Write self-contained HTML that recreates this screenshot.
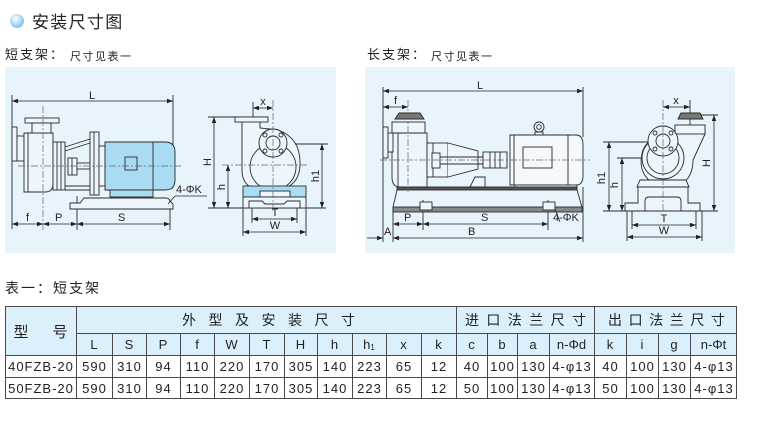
<!DOCTYPE html>
<html><head><meta charset="utf-8"><style>
html,body{margin:0;padding:0;background:#fff;width:759px;height:422px;overflow:hidden}
svg{display:block}
text{font-family:"Liberation Sans","Noto Sans CJK SC",sans-serif;fill:#222}
</style></head><body>
<svg width="759" height="422" viewBox="0 0 759 422" xmlns="http://www.w3.org/2000/svg">
<defs>
<radialGradient id="ball" cx="0.4" cy="0.35" r="0.7"><stop offset="0" stop-color="#ffffff"/><stop offset="1" stop-color="#6fbfea"/></radialGradient>
<marker id="ar" viewBox="0 0 8 6" refX="8" refY="3" markerWidth="6" markerHeight="4.5" orient="auto-start-reverse" markerUnits="userSpaceOnUse"><path d="M0,0 L8,3 L0,6 Z" fill="#222"/></marker>
</defs>

<!-- Header -->
<circle cx="17" cy="21" r="7" fill="url(#ball)"/>
<text x="32" y="28" font-size="17" letter-spacing="1.3">安装尺寸图</text>
<text x="5" y="59" font-size="13" letter-spacing="2">短支架：</text>
<text x="70" y="60" font-size="11" letter-spacing="1.5">尺寸见表一</text>
<text x="367" y="59" font-size="13" letter-spacing="2">长支架：</text>
<text x="431" y="60" font-size="11" letter-spacing="1.5">尺寸见表一</text>

<!-- Panels -->
<rect x="5" y="67" width="331" height="186" fill="#e8f4fc"/>
<rect x="365" y="67" width="370" height="186" fill="#e8f4fc"/>

<!-- ========== LEFT SIDE VIEW ========== -->
<g stroke="#2a2a2a" stroke-width="0.9" fill="none">
<line x1="12" y1="95" x2="12" y2="229"/>
<line x1="173" y1="95" x2="173" y2="146"/>
<line x1="77" y1="196" x2="77" y2="230"/>
<line x1="170" y1="205" x2="170" y2="230"/>
<line x1="115" y1="197" x2="115" y2="203"/>
<line x1="148" y1="197" x2="148" y2="203"/>
</g>
<g stroke="#2a2a2a" stroke-width="0.9" fill="#edf6fc">
<rect x="12" y="127" width="5" height="34"/>
<rect x="17" y="136" width="7" height="25"/>
<path d="M24,133 H53 V184 Q53,192 45,192 H24 Z"/>
<line x1="28" y1="133" x2="28" y2="192"/>
<rect x="25" y="118" width="34" height="5"/>
<rect x="32" y="123" width="19" height="10"/>
<rect x="53" y="142" width="12" height="48"/>
<line x1="57" y1="142" x2="57" y2="190"/><line x1="61" y1="142" x2="61" y2="190"/>
<path d="M65,147 L90,139 M65,151 L90,143 M65,186 H90 M65,190 H90" fill="none"/>
<rect x="68" y="158" width="9" height="17"/>
<line x1="72" y1="158" x2="72" y2="175"/>
<rect x="77" y="163" width="13" height="6"/>
<rect x="90" y="132" width="9" height="63"/>
<line x1="94" y1="132" x2="94" y2="195"/>
<rect x="99" y="146" width="6" height="40"/>
<path d="M105,142 H165 Q175,142 175,152 V180 Q175,190 165,190 H105 Z" fill="#a9dcf2"/>
<line x1="153" y1="142" x2="153" y2="190"/>
<rect x="125" y="157" width="12" height="13" fill="#a9dcf2"/>
<rect x="110" y="190" width="43" height="7" fill="#a9dcf2"/>
<path d="M70,203 H80 L84,198 H166 Q169,198 170,201 L173,204 V209 H70 Z"/>
</g>
<g stroke="#666" stroke-width="0.7" stroke-dasharray="7 2 2 2" fill="none">
<line x1="43" y1="106" x2="43" y2="232"/>
<line x1="18" y1="166" x2="182" y2="166"/>
</g>
<g stroke="#222" stroke-width="0.8">
<line x1="12" y1="101" x2="173" y2="101" marker-start="url(#ar)" marker-end="url(#ar)"/>
<line x1="12" y1="224" x2="43" y2="224" marker-start="url(#ar)" marker-end="url(#ar)"/>
<line x1="43" y1="224" x2="77" y2="224" marker-start="url(#ar)" marker-end="url(#ar)"/>
<line x1="77" y1="224" x2="170" y2="224" marker-start="url(#ar)" marker-end="url(#ar)"/>
<line x1="175" y1="196" x2="207" y2="196"/>
<line x1="175" y1="196" x2="168" y2="204"/>
</g>
<g font-size="11">
<text x="89" y="99">L</text>
<text x="26" y="221">f</text>
<text x="55" y="221">P</text>
<text x="118" y="221">S</text>
<text x="176" y="193">4-ΦK</text>
</g>

<!-- ========== LEFT FRONT VIEW ========== -->
<g stroke="#2a2a2a" stroke-width="0.9" fill="none">
<line x1="208" y1="117" x2="268" y2="117"/>
<line x1="208" y1="208" x2="326" y2="208"/>
<line x1="286" y1="144" x2="328" y2="144"/>
<line x1="253" y1="102" x2="253" y2="125"/>
<line x1="252" y1="200" x2="252" y2="223"/>
<line x1="297" y1="200" x2="297" y2="223"/>
<line x1="243" y1="208" x2="243" y2="236"/>
<line x1="306" y1="208" x2="306" y2="236"/>
</g>
<g stroke="#2a2a2a" stroke-width="0.9" fill="#edf6fc">
<path d="M242,122 V170 Q242,191 268,191 Q299,191 300,165 Q301,138 278,130 L260,128 V122"/>
<circle cx="273" cy="167" r="23"/>
<circle cx="273" cy="143" r="14"/>
<circle cx="273" cy="143" r="7"/>
<circle cx="265" cy="135" r="2"/><circle cx="281" cy="135" r="2"/>
<circle cx="265" cy="151" r="2"/><circle cx="281" cy="151" r="2"/>
<rect x="235" y="117" width="33" height="5"/>
<rect x="243" y="186" width="63" height="11" fill="#a9dcf2"/>
<rect x="260" y="191" width="30" height="6"/>
<rect x="243" y="197" width="63" height="11"/>
<path d="M249,208 V201 H262 L265,204 H284 L287,201 H300 V208" fill="none"/>
</g>
<g stroke="#666" stroke-width="0.7" stroke-dasharray="7 2 2 2" fill="none">
<line x1="273" y1="100" x2="273" y2="212"/>
<line x1="222" y1="165" x2="308" y2="165"/>
</g>
<g stroke="#222" stroke-width="0.8">
<line x1="214" y1="117" x2="214" y2="208" marker-start="url(#ar)" marker-end="url(#ar)"/>
<line x1="228" y1="165" x2="228" y2="208" marker-start="url(#ar)" marker-end="url(#ar)"/>
<line x1="322" y1="144" x2="322" y2="208" marker-start="url(#ar)" marker-end="url(#ar)"/>
<line x1="252" y1="219" x2="297" y2="219" marker-start="url(#ar)" marker-end="url(#ar)"/>
<line x1="243" y1="232" x2="306" y2="232" marker-start="url(#ar)" marker-end="url(#ar)"/>
<line x1="253" y1="108" x2="273" y2="108" marker-start="url(#ar)" marker-end="url(#ar)"/>
</g>
<g font-size="11">
<text x="211" y="162" transform="rotate(-90 211 162)" text-anchor="middle">H</text>
<text x="225" y="187" transform="rotate(-90 225 187)" text-anchor="middle">h</text>
<text x="319" y="176" transform="rotate(-90 319 176)" text-anchor="middle">h1</text>
<text x="275" y="216" text-anchor="middle">T</text>
<text x="275" y="229" text-anchor="middle">W</text>
<text x="263" y="105" text-anchor="middle">x</text>
</g>

<!-- ========== RIGHT SIDE VIEW ========== -->
<g stroke="#2a2a2a" stroke-width="0.9" fill="none">
<line x1="383" y1="87" x2="383" y2="242"/>
<line x1="583" y1="87" x2="583" y2="137"/>
<line x1="583" y1="187" x2="583" y2="242"/>
<line x1="393" y1="207" x2="393" y2="242"/>
<line x1="423" y1="200" x2="423" y2="230"/>
<line x1="548" y1="200" x2="548" y2="230"/>
</g>
<g stroke="#2a2a2a" stroke-width="0.9" fill="#edf6fc">
<polygon points="395,119 399,113 420,113 424,119" fill="#777"/>
<rect x="392" y="122" width="33" height="11"/>
<path d="M392,133 H427 V187 H400 Q392,187 392,177 Z"/>
<line x1="398" y1="133" x2="398" y2="187"/>
<rect x="383" y="127" width="5" height="31"/>
<rect x="388" y="133" width="5" height="19"/>
<rect x="427" y="143" width="21" height="34"/>
<line x1="433" y1="143" x2="433" y2="177"/>
<rect x="432" y="153" width="8" height="15"/>
<path d="M448,143 L478,151 V169 L448,177" />
<path d="M440,157 H483 M440,164 H483" fill="none"/>
<path d="M470,187 L475,177 H485 V187 Z"/>
<rect x="483" y="152" width="24" height="16"/>
<line x1="490" y1="152" x2="490" y2="168"/><line x1="495" y1="152" x2="495" y2="168"/><line x1="500" y1="152" x2="500" y2="168"/>
<path d="M510,135 H576 Q583,135 583,145 V176 Q583,185 576,185 H510 Z" fill="#f3f9fd"/>
<line x1="514" y1="135" x2="514" y2="185"/>
<line x1="568" y1="135" x2="568" y2="185"/>
<rect x="523" y="147" width="29" height="21" fill="#f3f9fd"/>
<circle cx="539" cy="127" r="5"/><circle cx="539" cy="127" r="2.3"/>
<rect x="535" y="132" width="8" height="3"/>
<rect x="515" y="185" width="62" height="4"/>
<rect x="397" y="187" width="180" height="3" fill="#555"/>
<path d="M397,190 L393,207 M577,190 L582,207" fill="none"/>
<rect x="393" y="207" width="189" height="5" fill="#888"/>
<rect x="420" y="202" width="12" height="8"/>
<rect x="543" y="202" width="12" height="8"/>
</g>
<g stroke="#666" stroke-width="0.7" stroke-dasharray="7 2 2 2" fill="none">
<line x1="408" y1="100" x2="408" y2="192"/>
<line x1="380" y1="160" x2="590" y2="160"/>
</g>
<g stroke="#222" stroke-width="0.8">
<line x1="383" y1="91" x2="583" y2="91" marker-start="url(#ar)" marker-end="url(#ar)"/>
<line x1="383" y1="107" x2="408" y2="107" marker-start="url(#ar)" marker-end="url(#ar)"/>
<line x1="393" y1="224" x2="423" y2="224" marker-start="url(#ar)" marker-end="url(#ar)"/>
<line x1="423" y1="224" x2="548" y2="224" marker-start="url(#ar)" marker-end="url(#ar)"/>
<line x1="367" y1="238" x2="383" y2="238" marker-end="url(#ar)"/>
<line x1="393" y1="238" x2="583" y2="238" marker-start="url(#ar)" marker-end="url(#ar)"/>
<line x1="555" y1="209" x2="560" y2="222"/>
</g>
<g font-size="11">
<text x="477" y="89">L</text>
<text x="394" y="104">f</text>
<text x="404" y="221">P</text>
<text x="481" y="221">S</text>
<text x="553" y="221">4-ΦK</text>
<text x="384" y="235">A</text>
<text x="468" y="235">B</text>
</g>

<!-- ========== RIGHT END VIEW ========== -->
<g stroke="#2a2a2a" stroke-width="0.9" fill="none">
<line x1="603" y1="142" x2="680" y2="142"/>
<line x1="617" y1="158" x2="690" y2="158"/>
<line x1="700" y1="115" x2="718" y2="115"/>
<line x1="603" y1="211" x2="718" y2="211"/>
<line x1="690" y1="100" x2="690" y2="125"/>
<line x1="632" y1="205" x2="632" y2="229"/>
<line x1="696" y1="205" x2="696" y2="229"/>
<line x1="627" y1="211" x2="627" y2="241"/>
<line x1="702" y1="211" x2="702" y2="241"/>
</g>
<g stroke="#2a2a2a" stroke-width="0.9" fill="#edf6fc">
<path d="M675,126 V134 Q650,134 643,150 Q637,170 650,181 Q662,190 680,185 Q693,178 693,160 L705,134 V126 Z"/>
<polygon points="678,119 681,113 700,113 703,119" fill="#777"/>
<rect x="675" y="125" width="30" height="9"/>
<circle cx="663" cy="158" r="21"/>
<circle cx="663" cy="158" r="16"/>
<circle cx="663" cy="141" r="15"/>
<circle cx="663" cy="141" r="7"/>
<circle cx="655" cy="133" r="2"/><circle cx="671" cy="133" r="2"/>
<circle cx="655" cy="149" r="2"/><circle cx="671" cy="149" r="2"/>
<path d="M637,187 L640,180 H686 L689,187 Z"/>
<path d="M625,211 V203 H638 V187 H688 V203 H700 V211 Z"/>
<path d="M645,211 V201 Q645,197 649,197 H677 Q681,197 681,201 V211" fill="none"/>
</g>
<g stroke="#666" stroke-width="0.7" stroke-dasharray="7 2 2 2" fill="none">
<line x1="663" y1="100" x2="663" y2="210"/>
</g>
<g stroke="#222" stroke-width="0.8">
<line x1="609" y1="142" x2="609" y2="211" marker-start="url(#ar)" marker-end="url(#ar)"/>
<line x1="622" y1="158" x2="622" y2="211" marker-start="url(#ar)" marker-end="url(#ar)"/>
<line x1="714" y1="115" x2="714" y2="211" marker-start="url(#ar)" marker-end="url(#ar)"/>
<line x1="663" y1="107" x2="690" y2="107" marker-start="url(#ar)" marker-end="url(#ar)"/>
<line x1="632" y1="225" x2="696" y2="225" marker-start="url(#ar)" marker-end="url(#ar)"/>
<line x1="627" y1="237" x2="702" y2="237" marker-start="url(#ar)" marker-end="url(#ar)"/>
</g>
<g font-size="11">
<text x="605" y="178" transform="rotate(-90 605 178)" text-anchor="middle">h1</text>
<text x="618" y="185" transform="rotate(-90 618 185)" text-anchor="middle">h</text>
<text x="710" y="163" transform="rotate(-90 710 163)" text-anchor="middle">H</text>
<text x="676" y="104" text-anchor="middle">x</text>
<text x="664" y="222" text-anchor="middle">T</text>
<text x="664" y="234" text-anchor="middle">W</text>
</g>

<!-- ========== TABLE ========== -->
<text x="5" y="293" font-size="14" letter-spacing="2">表一：短支架</text>
<rect x="5" y="306" width="732" height="49" fill="#dcf0fb"/>
<g stroke="#4a4a4a" stroke-width="1" fill="none">
<rect x="5.5" y="306.5" width="731" height="92"/>
<line x1="76.5" y1="306" x2="76.5" y2="399"/>
<line x1="76" y1="333.5" x2="737" y2="333.5"/>
<line x1="5" y1="355.5" x2="737" y2="355.5"/>
<line x1="5" y1="377.5" x2="737" y2="377.5"/>
<line x1="456.5" y1="306" x2="456.5" y2="399"/>
<line x1="594.5" y1="306" x2="594.5" y2="399"/>
<line x1="112.5" y1="333" x2="112.5" y2="399"/>
<line x1="146.5" y1="333" x2="146.5" y2="399"/>
<line x1="180.5" y1="333" x2="180.5" y2="399"/>
<line x1="214.5" y1="333" x2="214.5" y2="399"/>
<line x1="249.5" y1="333" x2="249.5" y2="399"/>
<line x1="284.5" y1="333" x2="284.5" y2="399"/>
<line x1="317.5" y1="333" x2="317.5" y2="399"/>
<line x1="352.5" y1="333" x2="352.5" y2="399"/>
<line x1="386.5" y1="333" x2="386.5" y2="399"/>
<line x1="421.5" y1="333" x2="421.5" y2="399"/>
<line x1="487.5" y1="333" x2="487.5" y2="399"/>
<line x1="517.5" y1="333" x2="517.5" y2="399"/>
<line x1="549.5" y1="333" x2="549.5" y2="399"/>
<line x1="626.5" y1="333" x2="626.5" y2="399"/>
<line x1="658.5" y1="333" x2="658.5" y2="399"/>
<line x1="690.5" y1="333" x2="690.5" y2="399"/>
</g>
<g font-size="15" text-anchor="middle">
<text x="21" y="337">型</text><text x="60" y="337">号</text>
</g>
<g font-size="14" text-anchor="middle">
<text x="189" y="325">外</text><text x="215.5" y="325">型</text><text x="242" y="325">及</text><text x="268.5" y="325">安</text><text x="295" y="325">装</text><text x="321.5" y="325">尺</text><text x="348" y="325">寸</text>
<text x="472" y="325">进</text><text x="493.4" y="325">口</text><text x="514.8" y="325">法</text><text x="536.2" y="325">兰</text><text x="557.6" y="325">尺</text><text x="579" y="325">寸</text>
<text x="615" y="325">出</text><text x="635.6" y="325">口</text><text x="656.2" y="325">法</text><text x="676.8" y="325">兰</text><text x="697.4" y="325">尺</text><text x="718" y="325">寸</text>
</g>
<g font-size="13" text-anchor="middle">
<text x="94" y="349">L</text><text x="129" y="349">S</text><text x="163" y="349">P</text><text x="197" y="349">f</text>
<text x="231.5" y="349">W</text><text x="266.5" y="349">T</text><text x="300.5" y="349">H</text><text x="334.5" y="349">h</text>
<text x="369" y="349">h<tspan font-size="8" dy="1">1</tspan></text>
<text x="403.5" y="349">x</text><text x="438.5" y="349">k</text><text x="471.5" y="349">c</text><text x="502" y="349">b</text>
<text x="533" y="349">a</text><text x="571.5" y="349">n-Φd</text><text x="610" y="349">k</text><text x="642" y="349">i</text>
<text x="674" y="349">g</text><text x="713.5" y="349">n-Φt</text>
</g>
<g font-size="13" text-anchor="middle" letter-spacing="1">
<text x="41" y="371">40FZB-20</text><text x="94.5" y="371">590</text><text x="129.5" y="371">310</text><text x="163.5" y="371">94</text>
<text x="197.5" y="371">110</text><text x="232" y="371">220</text><text x="267" y="371">170</text><text x="301" y="371">305</text>
<text x="335" y="371">140</text><text x="369.5" y="371">223</text><text x="404" y="371">65</text><text x="439" y="371">12</text>
<text x="472" y="371">40</text><text x="502.5" y="371">100</text><text x="533.5" y="371">130</text><text x="572" y="371">4-φ13</text>
<text x="610.5" y="371">40</text><text x="642.5" y="371">100</text><text x="674.5" y="371">130</text><text x="714" y="371">4-φ13</text>

<text x="41" y="393">50FZB-20</text><text x="94.5" y="393">590</text><text x="129.5" y="393">310</text><text x="163.5" y="393">94</text>
<text x="197.5" y="393">110</text><text x="232" y="393">220</text><text x="267" y="393">170</text><text x="301" y="393">305</text>
<text x="335" y="393">140</text><text x="369.5" y="393">223</text><text x="404" y="393">65</text><text x="439" y="393">12</text>
<text x="472" y="393">50</text><text x="502.5" y="393">100</text><text x="533.5" y="393">130</text><text x="572" y="393">4-φ13</text>
<text x="610.5" y="393">50</text><text x="642.5" y="393">100</text><text x="674.5" y="393">130</text><text x="714" y="393">4-φ13</text>
</g>
</svg>
</body></html>
